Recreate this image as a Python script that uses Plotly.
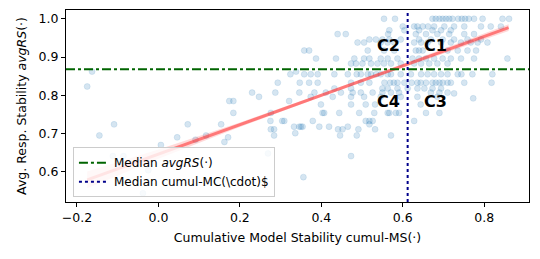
import plotly.graph_objects as go

# ---------------- data ----------------
row_y = [1.000, 0.980, 0.970, 0.960, 0.946, 0.938, 0.917, 0.896, 0.883, 0.862,
         0.855, 0.833, 0.823, 0.818, 0.807, 0.805, 0.796, 0.792, 0.785, 0.776,
         0.754, 0.733, 0.724, 0.718, 0.711, 0.701, 0.695, 0.690, 0.684, 0.678,
         0.670, 0.648, 0.641, 0.604, 0.586, 0.544]
row_x = [
    [0.554, 0.581, 0.673, 0.681, 0.690, 0.698, 0.706, 0.714, 0.722, 0.736, 0.745, 0.753, 0.762, 0.775, 0.796, 0.845, 0.861],
    [0.600, 0.628, 0.636, 0.649, 0.662, 0.677, 0.702, 0.726, 0.751, 0.792, 0.816, 0.841],
    [0.567, 0.604, 0.640, 0.673, 0.694, 0.718],
    [0.440, 0.460, 0.564, 0.632, 0.657, 0.685, 0.714, 0.751, 0.775],
    [0.518, 0.534, 0.550, 0.567, 0.595, 0.640, 0.669, 0.698, 0.726, 0.759, 0.792],
    [0.489, 0.505, 0.546, 0.563, 0.579, 0.628, 0.645, 0.661, 0.694, 0.718, 0.743, 0.767, 0.784, 0.808],
    [0.358, 0.370, 0.514, 0.554, 0.579, 0.632, 0.640, 0.649, 0.710, 0.735, 0.759, 0.780],
    [0.387, 0.436, 0.481, 0.505, 0.518, 0.546, 0.563, 0.587, 0.624, 0.640, 0.657, 0.677, 0.698, 0.718, 0.743, 0.775, 0.857],
    [0.473, 0.485, 0.501, 0.522, 0.538, 0.554, 0.571, 0.595, 0.628, 0.645, 0.665, 0.685, 0.710],
    [-0.163, 0.338],
    [0.324, 0.358, 0.374, 0.391, 0.432, 0.465, 0.487, 0.497, 0.514, 0.522, 0.535, 0.546, 0.563, 0.571, 0.595, 0.620,
     0.645, 0.661, 0.677, 0.694, 0.710, 0.735, 0.744, 0.771, 0.820],
    [0.293, 0.347, 0.370, 0.391, 0.473, 0.497, 0.518, 0.555, 0.569, 0.578, 0.587, 0.604, 0.622, 0.636, 0.644, 0.657,
     0.673, 0.681, 0.690, 0.698, 0.710, 0.718, 0.751, 0.818],
    [-0.175],
    [0.432, 0.473, 0.550, 0.563, 0.587, 0.612, 0.636, 0.653, 0.673, 0.694],
    [0.230, 0.287, 0.346, 0.383, 0.411, 0.448, 0.477, 0.497, 0.526, 0.550, 0.571, 0.591, 0.669, 0.690, 0.710],
    [0.726],
    [0.247, 0.374, 0.428, 0.473, 0.505, 0.546, 0.595, 0.636, 0.685],
    [0.773],
    [0.174, 0.184, 0.321],
    [0.399, 0.473, 0.509, 0.532, 0.644],
    [0.184, 0.276, 0.403, 0.407, 0.444, 0.493, 0.530, 0.563, 0.567, 0.583, 0.591, 0.657, 0.690],
    [0.275, 0.304, 0.309, 0.379, 0.509, 0.518, 0.526, 0.628],
    [-0.109, 0.072, 0.154, 0.518],
    [0.333, 0.346, 0.350, 0.354, 0.395, 0.419, 0.465],
    [0.276, 0.284, 0.441, 0.452, 0.491, 0.532],
    [0.336],
    [-0.145, 0.117, 0.284, 0.446, 0.487, 0.571],
    [0.046, 0.171],
    [0.091],
    [0.162],
    [0.006],
    [0.269],
    [-0.112, -0.086, 0.473],
    [-0.025],
    [0.356],
    [-0.038],
]

# regression fit with confidence band
reg_x = [-0.175, 0.0, 0.2, 0.4, 0.6, 0.86]
reg_y = [0.579, 0.646, 0.723, 0.800, 0.877, 0.977]
reg_lo = [0.557, 0.634, 0.717, 0.796, 0.872, 0.968]
reg_hi = [0.601, 0.658, 0.729, 0.804, 0.882, 0.986]

median_rs = 0.868
median_ms = 0.612

quad_labels = ["C1", "C2", "C3", "C4"]
quad_x = [0.681, 0.564, 0.681, 0.564]
quad_y = [0.931, 0.931, 0.783, 0.783]

x_range = [-0.227, 0.910]
y_range = [0.521, 1.023]
x_ticks = [-0.2, 0.0, 0.2, 0.4, 0.6, 0.8]
y_ticks = [0.6, 0.7, 0.8, 0.9, 1.0]

# ---------------- figure ----------------
pts_x, pts_y = [], []
for yv, xs in zip(row_y, row_x):
    for xv in xs:
        pts_x.append(xv)
        pts_y.append(yv)

FONT = "DejaVu Sans"
fig = go.Figure()

fig.add_trace(go.Scatter(
    x=pts_x, y=pts_y, mode="markers", showlegend=False,
    marker=dict(size=6, color="rgba(31,119,180,0.19)",
                line=dict(width=0.6, color="rgba(31,119,180,0.2)")),
))
fig.add_trace(go.Scatter(x=reg_x, y=reg_lo, mode="lines", line=dict(width=0),
                         showlegend=False, hoverinfo="skip"))
fig.add_trace(go.Scatter(x=reg_x, y=reg_hi, mode="lines", line=dict(width=0),
                         fill="tonexty", fillcolor="rgba(255,0,0,0.15)",
                         showlegend=False, hoverinfo="skip"))
fig.add_trace(go.Scatter(x=reg_x, y=reg_y, mode="lines", showlegend=False,
                         line=dict(color="rgba(255,40,40,0.55)", width=3)))

fig.add_trace(go.Scatter(x=x_range, y=[median_rs, median_rs], mode="lines",
                         name="Median <i>avgRS</i>(·)",
                         line=dict(color="#006400", width=2, dash="dashdot")))
fig.add_trace(go.Scatter(x=[median_ms, median_ms], y=y_range, mode="lines",
                         name="Median cumul-MC(\\cdot)$",
                         line=dict(color="#00008b", width=2, dash="dot")))

for lab, xv, yv in zip(quad_labels, quad_x, quad_y):
    fig.add_annotation(x=xv, y=yv, text="<b>%s</b>" % lab, showarrow=False,
                       font=dict(family=FONT, size=16, color="black"),
                       xanchor="center", yanchor="middle")

axis_common = dict(showgrid=False, zeroline=False, showline=True, linecolor="black",
                   linewidth=1, mirror=True, ticks="outside", ticklen=4,
                   tickcolor="black", automargin=False,
                   tickfont=dict(family=FONT, size=12.5, color="black"))

fig.update_xaxes(range=x_range, tickvals=x_ticks, tickformat=".1f",
                 title=dict(text="Cumulative Model Stability cumul-MS(·)",
                            font=dict(family=FONT, size=12.5, color="black"), standoff=9),
                 **axis_common)
fig.update_yaxes(range=y_range, tickvals=y_ticks, tickformat=".1f",
                 title=dict(text="Avg. Resp. Stability <i>avgRS</i>(·)",
                            font=dict(family=FONT, size=12.5, color="black"), standoff=9),
                 **axis_common)

fig.update_layout(
    width=540, height=259,
    margin=dict(l=66, r=11, t=10, b=57),
    plot_bgcolor="white", paper_bgcolor="white",
    font=dict(family=FONT, size=12.5, color="black"),
    legend=dict(x=0.015, y=0.025, xanchor="left", yanchor="bottom",
                traceorder="normal",
                bgcolor="rgba(255,255,255,0.8)", bordercolor="#cccccc", borderwidth=1,
                font=dict(family=FONT, size=12), tracegroupgap=0, itemwidth=30),
)

fig.write_html("out.html", config={"displayModeBar": False},
               post_script="document.body.style.margin='0';")
